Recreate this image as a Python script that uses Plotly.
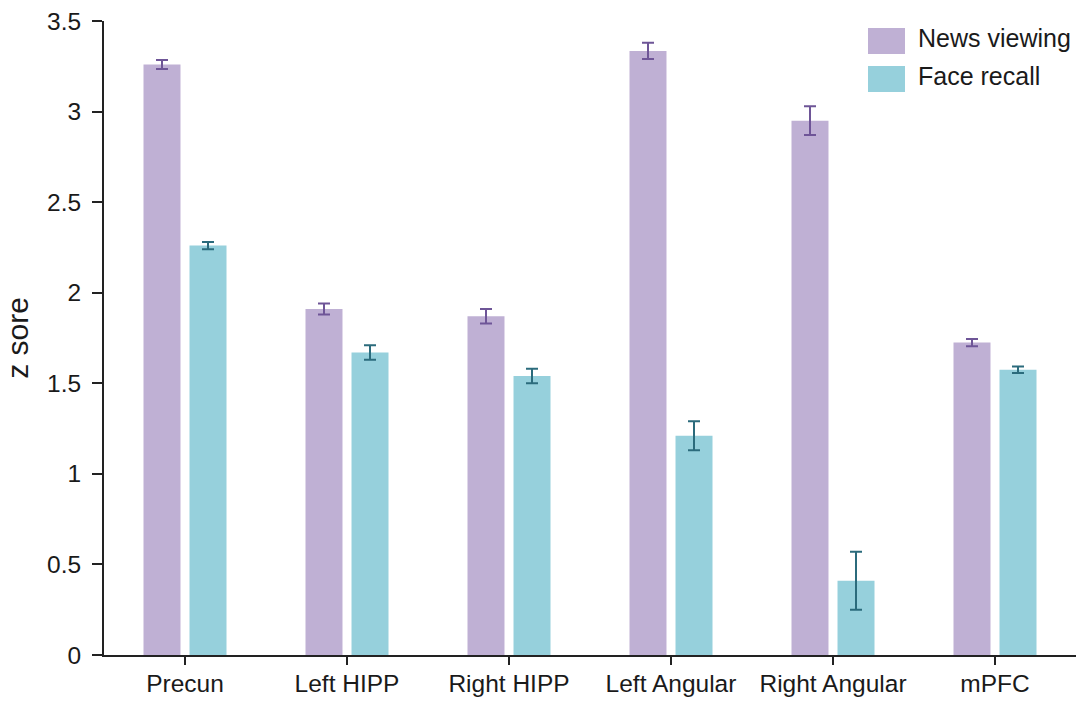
import plotly.graph_objects as go

# Regions of interest and mean z scores per condition
regions = ["Precun", "Left HIPP", "Right HIPP", "Left Angular", "Right Angular", "mPFC"]
news_viewing = [3.26, 1.91, 1.87, 3.335, 2.95, 1.725]
news_err = [0.025, 0.03, 0.04, 0.045, 0.08, 0.02]
face_recall = [2.26, 1.67, 1.54, 1.21, 0.41, 1.575]
face_err = [0.02, 0.04, 0.04, 0.08, 0.16, 0.018]

y_ticks = [0, 0.5, 1, 1.5, 2, 2.5, 3, 3.5]

purple = "#BFB0D4"
purple_dark = "#6E5597"
teal = "#96D0DC"
teal_dark = "#2B6B7C"
font_family = "Liberation Sans, Arial, sans-serif"

# plot area in pixels
L, R, T, B = 104, 1076, 21, 655
W, H = R - L, B - T

fig = go.Figure()
fig.add_trace(go.Bar(
    x=regions, y=news_viewing, name="News viewing",
    marker=dict(color=purple, line=dict(width=0)),
    error_y=dict(type="data", array=news_err, color=purple_dark, thickness=2, width=6),
))
fig.add_trace(go.Bar(
    x=regions, y=face_recall, name="Face recall",
    marker=dict(color=teal, line=dict(width=0)),
    error_y=dict(type="data", array=face_err, color=teal_dark, thickness=2, width=6),
))

# Legend drawn as swatches + labels in the upper right corner
legend_items = [("News viewing", purple), ("Face recall", teal)]
shapes = []
annotations = []
for i, (label, color) in enumerate(legend_items):
    y_top = 28 + i * 38
    shapes.append(dict(
        type="rect", xref="paper", yref="paper",
        x0=(868 - L) / W, x1=(905 - L) / W,
        y0=(B - (y_top + 26)) / H, y1=(B - y_top) / H,
        fillcolor=color, line=dict(width=0), layer="above",
    ))
    annotations.append(dict(
        text=label, xref="paper", yref="paper",
        x=(916 - L) / W, y=(B - (y_top + 10)) / H,
        xanchor="left", yanchor="middle", showarrow=False,
        font=dict(size=25, color="#1a1a1a", family=font_family),
    ))

fig.update_layout(
    width=1081, height=702,
    margin=dict(l=L, r=1081 - R, t=T, b=702 - B),
    paper_bgcolor="white", plot_bgcolor="white",
    barmode="group", bargap=0.432, bargroupgap=0.196,
    showlegend=False,
    font=dict(family=font_family, size=24, color="#1a1a1a"),
    shapes=shapes, annotations=annotations,
    xaxis=dict(
        range=[-0.5, 5.5], showline=True, linecolor="#222", linewidth=2,
        ticks="outside", ticklen=8, tickwidth=2, tickcolor="#222",
        ticklabelstandoff=-2, automargin=False,
        showgrid=False, zeroline=False,
        tickfont=dict(size=24.5, color="#1a1a1a"),
    ),
    yaxis=dict(
        range=[0, 3.5], tickvals=y_ticks, ticktext=[f"{v:g}" for v in y_ticks],
        showline=True, linecolor="#222", linewidth=2,
        ticks="outside", ticklen=10, tickwidth=2, tickcolor="#222",
        ticklabelstandoff=6, automargin=False,
        showgrid=False, zeroline=False,
        tickfont=dict(size=24.5, color="#1a1a1a"),
        title=dict(text="z sore", font=dict(size=30, color="#1a1a1a"), standoff=10),
    ),
)

fig.write_html("out.html")
